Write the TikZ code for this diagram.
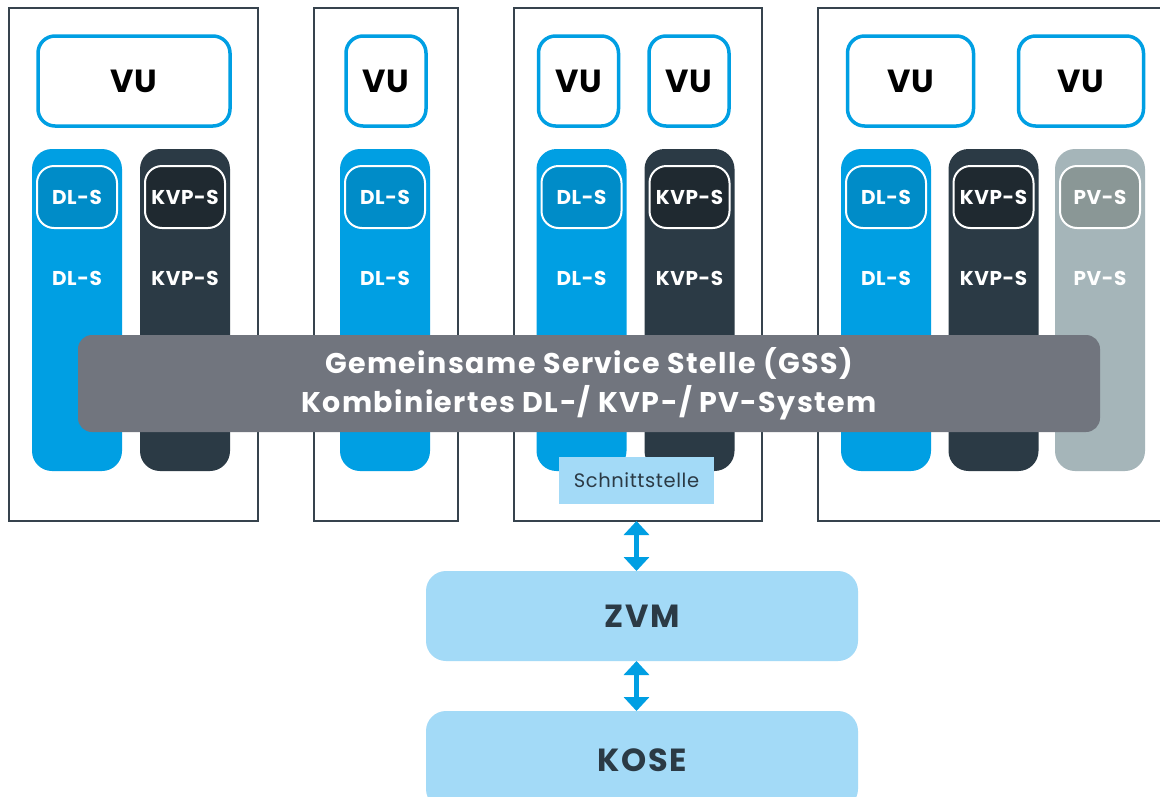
\documentclass[tikz,border=0pt]{standalone}
\usepackage{fontspec}
\setmainfont{Poppins}
\newfontfamily\widefont[LetterSpace=5]{Poppins}
\newfontfamily\midfont[LetterSpace=3]{Poppins}
\usetikzlibrary{arrows.meta,calc}
\definecolor{cyanb}{HTML}{009FE3}
\definecolor{cyandk}{HTML}{008CC8}
\definecolor{slate}{HTML}{2B3A45}
\definecolor{slatedk}{HTML}{1F2930}
\definecolor{pvgray}{HTML}{A5B5B9}
\definecolor{pvgraydk}{HTML}{8A9796}
\definecolor{gssgray}{HTML}{71757E}
\definecolor{lightb}{HTML}{A3DAF7}
\definecolor{boxline}{HTML}{36434D}
\begin{document}
\begin{tikzpicture}[x=1pt,y=-1pt,
  every node/.style={outer sep=0pt, inner sep=0pt},
  outerbox/.style={draw=boxline, line width=2pt, fill=white},
  vubox/.style={draw=cyanb, line width=3.5pt, fill=white, rounded corners=17pt, minimum height=90pt, font=\midfont\bfseries\fontsize{32}{32}\selectfont, text=black},
  pill/.style={rounded corners=20pt, minimum width=90pt, minimum height=322pt},
  innerpill/.style={draw=white, line width=2pt, rounded corners=17pt, minimum width=80pt, minimum height=62pt, text=white, font=\midfont\bfseries\fontsize{20}{20}\selectfont},
  plabel/.style={text=white, font=\midfont\bfseries\fontsize{20}{20}\selectfont},
  lbbox/.style={fill=lightb, rounded corners=20pt, text=slate, font=\widefont\bfseries\fontsize{32}{32}\selectfont},
  twoarrow/.style={draw=cyanb, line width=5pt, {Triangle[width=25pt,length=14pt]}-{Triangle[width=25pt,length=14pt]}}
]
\useasboundingbox (0,0) rectangle (1160,796);
\fill[white] (0,0) rectangle (1160,796);

% outer boxes
\node[outerbox, minimum width=249pt, minimum height=513pt] (b1) at (133.5,264.5) {};
\node[outerbox, minimum width=144pt, minimum height=513pt] (b2) at (386,264.5) {};
\node[outerbox, minimum width=248pt, minimum height=513pt] (b3) at (638,264.5) {};
\node[outerbox, minimum width=352pt, minimum height=513pt] (b4) at (994,264.5) {};

% VU boxes
\node[vubox, minimum width=192pt] (vu1) at (134,81) {VU};
\node[vubox, minimum width=80pt] (vu2) at (386,81) {VU};
\node[vubox, minimum width=80pt] (vu3a) at (578.5,81) {VU};
\node[vubox, minimum width=80pt] (vu3b) at (689,81) {VU};
\node[vubox, minimum width=126pt] (vu4a) at (910.5,81) {VU};
\node[vubox, minimum width=125pt] (vu4b) at (1081,81) {VU};

% pills
\node[pill, fill=cyanb] (p1d) at (77,310) {};
\node[pill, fill=slate] (p1k) at (185,310) {};
\node[pill, fill=cyanb] (p2d) at (385,310) {};
\node[pill, fill=cyanb] (p3d) at (581.5,310) {};
\node[pill, fill=slate] (p3k) at (689.5,310) {};
\node[pill, fill=cyanb] (p4d) at (886,310) {};
\node[pill, fill=slate] (p4k) at (993.5,310) {};
\node[pill, fill=pvgray] (p4p) at (1100,310) {};

% inner pills
\node[innerpill, fill=cyandk] (i1d) at (77,197) {DL-S};
\node[innerpill, fill=slatedk] (i1k) at (185,197) {KVP-S};
\node[innerpill, fill=cyandk] (i2d) at (385,197) {DL-S};
\node[innerpill, fill=cyandk] (i3d) at (581.5,197) {DL-S};
\node[innerpill, fill=slatedk] (i3k) at (689.5,197) {KVP-S};
\node[innerpill, fill=cyandk] (i4d) at (886,197) {DL-S};
\node[innerpill, fill=slatedk] (i4k) at (993.5,197) {KVP-S};
\node[innerpill, fill=pvgraydk] (i4p) at (1100,197) {PV-S};

% pill labels
\node[plabel] (l1d) at (77,278) {DL-S};
\node[plabel] (l1k) at (185,278) {KVP-S};
\node[plabel] (l2d) at (385,278) {DL-S};
\node[plabel] (l3d) at (581.5,278) {DL-S};
\node[plabel] (l3k) at (689.5,278) {KVP-S};
\node[plabel] (l4d) at (886,278) {DL-S};
\node[plabel] (l4k) at (993.5,278) {KVP-S};
\node[plabel] (l4p) at (1100,278) {PV-S};

% GSS bar
\node[fill=gssgray, rounded corners=14pt, minimum width=1022pt, minimum height=97pt,
  text=white, align=center, font=\widefont\bfseries\fontsize{28.5}{39}\selectfont] (gss) at (589,383.5)
  {Gemeinsame Service Stelle (GSS)\\Kombiniertes DL-/ KVP-/ PV-System};

% Schnittstelle
\node[fill=lightb, minimum width=155pt, minimum height=47pt, text=slate,
  font=\midfont\fontsize{19.5}{19.5}\selectfont] (schnitt) at (636.5,480.5) {Schnittstelle};

% ZVM and KOSE
\node[lbbox, minimum width=432pt, minimum height=90pt] (zvm) at (642,616) {ZVM};
\node[lbbox, minimum width=432pt, minimum height=98pt] (kose) at (642,760) {KOSE};

% arrows
\draw[twoarrow] (b3.south -| schnitt.south) -- (zvm.north -| schnitt.south);
\draw[twoarrow] (zvm.south -| schnitt.south) -- (kose.north -| schnitt.south);
\end{tikzpicture}
\end{document}
